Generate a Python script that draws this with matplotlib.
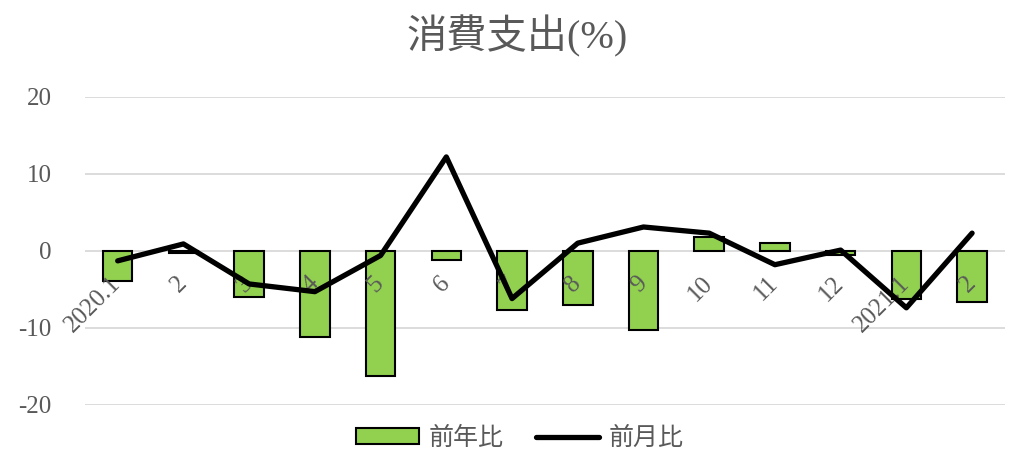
import matplotlib
matplotlib.use("Agg")
import matplotlib.pyplot as plt
import numpy as np

plt.rcParams['font.family'] = ['Liberation Serif', 'Noto Sans CJK JP', 'DejaVu Sans']

categories = ["2020.1", "2", "3", "4", "5", "6", "7", "8", "9", "10", "11", "12", "2021.1", "2"]
yoy = [-3.9, -0.3, -6.0, -11.2, -16.3, -1.2, -7.7, -7.0, -10.3, 1.8, 1.0, -0.6, -6.3, -6.7]
mom = [-1.3, 0.9, -4.3, -5.3, -0.6, 12.2, -6.2, 1.0, 3.1, 2.3, -1.8, 0.1, -7.4, 2.3]
yticks = [-20, -10, 0, 10, 20]

title = "消費支出(%)"
label_yoy = "前年比"
label_mom = "前月比"

green = "#92D050"
gray = "#595959"

fig = plt.figure(figsize=(10.1, 4.68), dpi=100)
ax = fig.add_axes([0.084, 0.135, 0.911, 0.658])

x = np.arange(len(categories))
bars = ax.bar(x, yoy, width=0.45, color=green, edgecolor="black", linewidth=1.5, label=label_yoy, zorder=2)
line, = ax.plot(x, mom, color="black", linewidth=3.8, label=label_mom, zorder=3, solid_capstyle='round')

ax.set_xlim(-0.5, len(categories) - 0.5)
ax.set_ylim(-20, 20)
ax.set_yticks(yticks)
ax.set_yticklabels([str(v) for v in yticks])
ax.grid(axis='y', color="#d9d9d9", linewidth=1.3)
ax.set_axisbelow(True)
ax.xaxis.set_zorder(2.5)

for s in ['top', 'right', 'left']:
    ax.spines[s].set_visible(False)
ax.spines['bottom'].set_position(('data', 0))
ax.spines['bottom'].set_visible(False)

ax.set_xticks(x)
ax.set_xticklabels(categories, rotation=45, ha='right', va='center', rotation_mode='anchor')
ax.tick_params(axis='x', length=0, pad=21, labelsize=18, labelcolor=gray)
ax.tick_params(axis='y', length=0, pad=24, labelsize=18, labelcolor=gray)

fig.text(0.512, 0.922, title, ha='center', va='center', fontsize=29, color=gray)

leg = fig.legend(handles=[bars, line], labels=[label_yoy, label_mom],
                 loc='lower center', bbox_to_anchor=(0.515, -0.01), ncol=2, frameon=False,
                 fontsize=18, handlelength=2.5, handleheight=0.6, handletextpad=0.4,
                 columnspacing=1.3, labelcolor=gray)

fig.savefig("out.png", dpi=100)
